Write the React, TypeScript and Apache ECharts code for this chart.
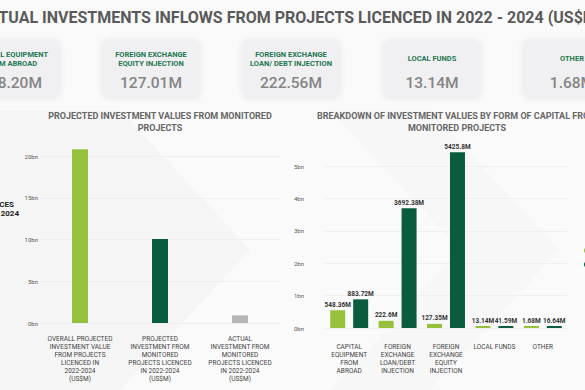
import React, { useEffect, useRef } from "react";
import * as echarts from "echarts";

const pageTitle = "ACTUAL INVESTMENTS INFLOWS FROM PROJECTS LICENCED IN 2022 - 2024 (US$M)";
const cardLabels = [
  "CAPITAL EQUIPMENT\nFROM ABROAD",
  "FOREIGN EXCHANGE\nEQUITY INJECTION",
  "FOREIGN EXCHANGE\nLOAN/ DEBT INJECTION",
  "LOCAL FUNDS",
  "OTHER",
];
const cardValues = ["548.20M", "127.01M", "222.56M", "13.14M", "1.68M"];

const overviewTitle = "PROJECTED INVESTMENT VALUES FROM MONITORED\nPROJECTS";
const overviewCategories = [
  "OVERALL PROJECTED\nINVESTMENT VALUE\nFROM PROJECTS\nLICENCED IN\n2022-2024\n(US$M)",
  "PROJECTED\nINVESTMENT FROM\nMONITORED\nPROJECTS LICENCED\nIN 2022-2024\n(US$M)",
  "ACTUAL\nINVESTMENT FROM\nMONITORED\nPROJECTS LICENCED\nIN 2022-2024\n(US$M)",
];
const overviewValues = [20800, 10060, 913];
const overviewColors = ["#95c13d", "#0b5c3e", "#b5b5b5"];

const breakdownTitle = "BREAKDOWN OF INVESTMENT VALUES BY FORM OF CAPITAL FROM\nMONITORED PROJECTS";
const formCategories = [
  "CAPITAL\nEQUIPMENT\nFROM\nABROAD",
  "FOREIGN\nEXCHANGE\nLOAN/DEBT\nINJECTION",
  "FOREIGN\nEXCHANGE\nEQUITY\nINJECTION",
  "LOCAL FUNDS",
  "OTHER",
];
const seriesNames = ["ACTUAL INVESTMENT", "PROJECTED INVESTMENT"];
const actualValues = [548.36, 222.6, 127.35, 13.14, 1.68];
const projectedValues = [883.72, 3692.38, 5425.8, 41.59, 16.64];

const sideLines = ["INVESTMENT SOURCES", "2022 - 2024"];

const LIGHT = "#95c13d";
const DARK = "#0b5c3e";
const FONT = "Roboto, 'Noto Sans', sans-serif";

export default function App() {
  const ref = useRef<HTMLDivElement>(null);
  useEffect(() => {
    if (!ref.current) return;
    const chart = echarts.init(ref.current, undefined, { renderer: "svg" });

    const cardCenters = [11, 151, 291, 432, 572];
    const cardW = 98;
    const graphics: any[] = [
      {
        type: "polygon",
        silent: true,
        z: -10,
        shape: { points: [[0, 110], [120, 110], [250, 250], [120, 390], [0, 390]] },
        style: { fill: "#f5f5f5" },
      },
      {
        type: "polygon",
        silent: true,
        z: -10,
        shape: { points: [[330, 110], [430, 110], [560, 250], [430, 390], [330, 390], [460, 250]] },
        style: { fill: "#f7f7f7" },
      },
      {
        type: "text",
        x: -22.5,
        y: 17,
        style: {
          text: pageTitle,
          font: `bold 16px ${FONT}`,
          fill: "#5a5a5a",
          textAlign: "left",
          textVerticalAlign: "middle",
        },
      },
    ];
    cardCenters.forEach((cx, i) => {
      graphics.push({
        type: "rect",
        shape: { x: cx - cardW / 2, y: 40, width: cardW, height: 58, r: 6 },
        style: { fill: "#f0f0f2", shadowBlur: 6, shadowColor: "rgba(0,0,0,0.08)" },
      });
      const twoLines = cardLabels[i].includes("\n");
      graphics.push({
        type: "text",
        x: cx,
        y: twoLines ? 58.5 : 58.5,
        style: {
          text: cardLabels[i],
          font: `bold 7.5px ${FONT}`,
          lineHeight: 9,
          fill: "#24774f",
          textAlign: "center",
          textVerticalAlign: "middle",
        },
      });
      graphics.push({
        type: "text",
        x: cx,
        y: 83,
        style: {
          text: cardValues[i],
          font: `500 15.5px ${FONT}`,
          fill: "#858585",
          textAlign: "center",
          textVerticalAlign: "middle",
        },
      });
    });
    graphics.push({
      type: "text",
      x: 160,
      y: 122,
      style: {
        text: overviewTitle,
        font: `bold 9px ${FONT}`,
        lineHeight: 12,
        fill: "#666",
        textAlign: "center",
        textVerticalAlign: "middle",
      },
    });
    graphics.push({
      type: "text",
      x: 457,
      y: 122,
      style: {
        text: breakdownTitle,
        font: `bold 9px ${FONT}`,
        lineHeight: 12,
        fill: "#666",
        textAlign: "center",
        textVerticalAlign: "middle",
      },
    });
    graphics.push({
      type: "text",
      x: 14,
      y: 204,
      style: { text: sideLines[0], font: `bold 8px ${FONT}`, fill: "#222", textAlign: "right", textVerticalAlign: "middle" },
    });
    graphics.push({
      type: "text",
      x: 19,
      y: 213,
      style: { text: sideLines[1], font: `bold 8px ${FONT}`, fill: "#222", textAlign: "right", textVerticalAlign: "middle" },
    });

    const bnFormatter = (v: number) => `${v / 1000}bn`;

    chart.setOption({
      animation: false,
      backgroundColor: "#fafafa",
      textStyle: { fontFamily: FONT },
      graphic: graphics,
      legend: {
        orient: "vertical",
        left: 579,
        top: 242,
        itemWidth: 7,
        itemHeight: 7,
        itemGap: 7,
        icon: "circle",
        data: seriesNames,
        textStyle: { fontSize: 7, color: "#444" },
      },
      grid: [
        { left: 40, right: 305, top: 156, bottom: 67 },
        { left: 325, right: 18, top: 166, bottom: 62 },
      ],
      xAxis: [
        {
          type: "category",
          gridIndex: 0,
          data: overviewCategories,
          axisLine: { show: false },
          axisTick: { show: false },
          axisLabel: { interval: 0, fontSize: 6.5, lineHeight: 8, color: "#444", margin: 12 },
        },
        {
          type: "category",
          gridIndex: 1,
          data: formCategories,
          axisLine: { show: false },
          axisTick: { show: false },
          axisLabel: { interval: 0, fontSize: 6.5, lineHeight: 8, color: "#444", margin: 15 },
        },
      ],
      yAxis: [
        {
          type: "value",
          gridIndex: 0,
          min: 0,
          max: 20000,
          interval: 5000,
          axisLabel: { formatter: bnFormatter, fontSize: 6, color: "#555", margin: 2 },
          splitLine: { lineStyle: { color: "#efefef" } },
        },
        {
          type: "value",
          gridIndex: 1,
          min: 0,
          max: 5000,
          interval: 1000,
          axisLabel: { formatter: bnFormatter, fontSize: 6, color: "#555", margin: 21 },
          splitLine: { lineStyle: { color: "#efefef" } },
        },
      ],
      series: [
        {
          type: "bar",
          xAxisIndex: 0,
          yAxisIndex: 0,
          clip: false,
          barWidth: 16,
          data: overviewValues.map((v, i) => ({ value: v, itemStyle: { color: overviewColors[i] } })),
        },
        {
          name: seriesNames[0],
          type: "bar",
          xAxisIndex: 1,
          yAxisIndex: 1,
          clip: false,
          barWidth: 15,
          barGap: "53%",
          barMinHeight: 2,
          itemStyle: { color: LIGHT },
          data: actualValues,
          label: {
            show: true,
            position: "top",
            distance: 2,
            formatter: (p: any) => `${p.value}M`,
            fontSize: 6.5,
            fontWeight: "bold",
            color: "#333",
          },
        },
        {
          name: seriesNames[1],
          type: "bar",
          xAxisIndex: 1,
          yAxisIndex: 1,
          clip: false,
          barWidth: 15,
          barGap: "53%",
          barMinHeight: 2,
          itemStyle: { color: DARK },
          data: projectedValues,
          label: {
            show: true,
            position: "top",
            distance: 2,
            formatter: (p: any) => `${p.value}M`,
            fontSize: 6.5,
            fontWeight: "bold",
            color: "#333",
          },
        },
      ],
    });
    return () => chart.dispose();
  }, []);
  return (
    <div
      ref={ref}
      style={{ position: "absolute", left: 0, top: 0, width: 585, height: 390 }}
    />
  );
}
